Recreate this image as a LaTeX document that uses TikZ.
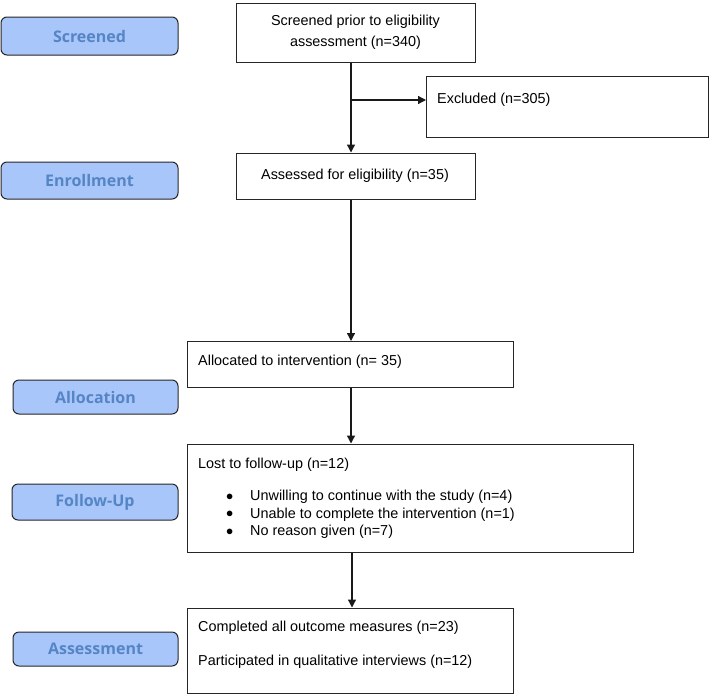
\documentclass[tikz,border=0pt]{standalone}
\usepackage{fontspec}
\setmainfont{Liberation Sans}
\newfontfamily\labelfont{Open Sans}
\usetikzlibrary{arrows.meta}
\definecolor{phasefill}{HTML}{A8C6FA}
\definecolor{phasetext}{HTML}{5585C5}
\begin{document}
\begin{tikzpicture}[x=1pt,y=-1pt,
  phase/.style={draw=black!85,line width=1pt,fill=phasefill,rounded corners=6pt,
    font=\labelfont\bfseries\fontsize{16}{18}\selectfont,text=phasetext,inner sep=0pt},
  box/.style={draw=black!85,line width=1pt,inner sep=0pt},
  txt/.style={font=\fontsize{14.4}{21}\selectfont,inner sep=0pt},
  arr/.style={line width=1.3pt,draw=black!90,-{Triangle[length=8pt,width=8pt]}}]
\useasboundingbox (0,0) rectangle (712,694);
% phase labels
\node[phase,minimum width=177pt,minimum height=38pt] (pscr) at (89.5,36) {Screened};
\node[phase,minimum width=177pt,minimum height=37pt] (penr) at (89.5,180.5) {Enrollment};
\node[phase,minimum width=165pt,minimum height=34pt] (palo) at (95.5,397) {Allocation};
\node[phase,minimum width=166pt,minimum height=36pt] (pfol) at (95,502) {Follow-Up};
\node[phase,minimum width=165pt,minimum height=34pt] (pass) at (95.5,649) {Assessment};
% boxes
\node[box,minimum width=239pt,minimum height=59pt] (scr) at (355.5,32.5) {};
\node[box,minimum width=282pt,minimum height=61pt] (exc) at (567.5,106.5) {};
\node[box,minimum width=239pt,minimum height=46pt] (ass) at (355.5,176) {};
\node[box,minimum width=326pt,minimum height=46pt] (alo) at (350,364.5) {};
\node[box,minimum width=446pt,minimum height=108pt] (lost) at (410,498) {};
\node[box,minimum width=326pt,minimum height=85pt] (comp) at (350,650.5) {};
% texts
\node[txt,align=center] (tscr) at (355.5,32.5) {Screened prior to eligibility\\assessment (n=340)};
\node[txt,anchor=west] (texc) at (437,100) {Excluded (n=305)};
\node[txt] (tass) at (355,176) {Assessed for eligibility (n=35)};
\node[txt,anchor=west] (talo) at (198,362) {Allocated to intervention (n= 35)};
\node[txt,anchor=west] (tlost) at (198,465) {Lost to follow-up (n=12)};
\node[txt,anchor=west] (b1) at (226,497) {$\bullet$};
\node[txt,anchor=west] (b2) at (226,514.5) {$\bullet$};
\node[txt,anchor=west] (b3) at (226,532) {$\bullet$};
\node[txt,anchor=west] (l1) at (250,497) {Unwilling to continue with the study (n=4)};
\node[txt,anchor=west] (l2) at (250,514.5) {Unable to complete the intervention (n=1)};
\node[txt,anchor=west] (l3) at (250,532) {No reason given (n=7)};
\node[txt,anchor=west] (tc1) at (198,628) {Completed all outcome measures (n=23)};
\node[txt,anchor=west] (tc2) at (198,662) {Participated in qualitative interviews (n=12)};
% connectors
\coordinate (brr) at (351,100);
\draw[arr] ([xshift=-4.5pt]scr.south) -- ([xshift=-4.5pt]ass.north);
\draw[arr] (brr) -- (exc.west |- brr);
\draw[arr] ([xshift=-4.5pt]ass.south) -- ([xshift=-4.5pt]ass.south |- alo.north);
\draw[arr] ([xshift=1pt]alo.south) -- ([xshift=1pt]alo.south |- lost.north);
\draw[arr] ([xshift=2pt]comp.north |- lost.south) -- ([xshift=2pt]comp.north);
\end{tikzpicture}
\end{document}
